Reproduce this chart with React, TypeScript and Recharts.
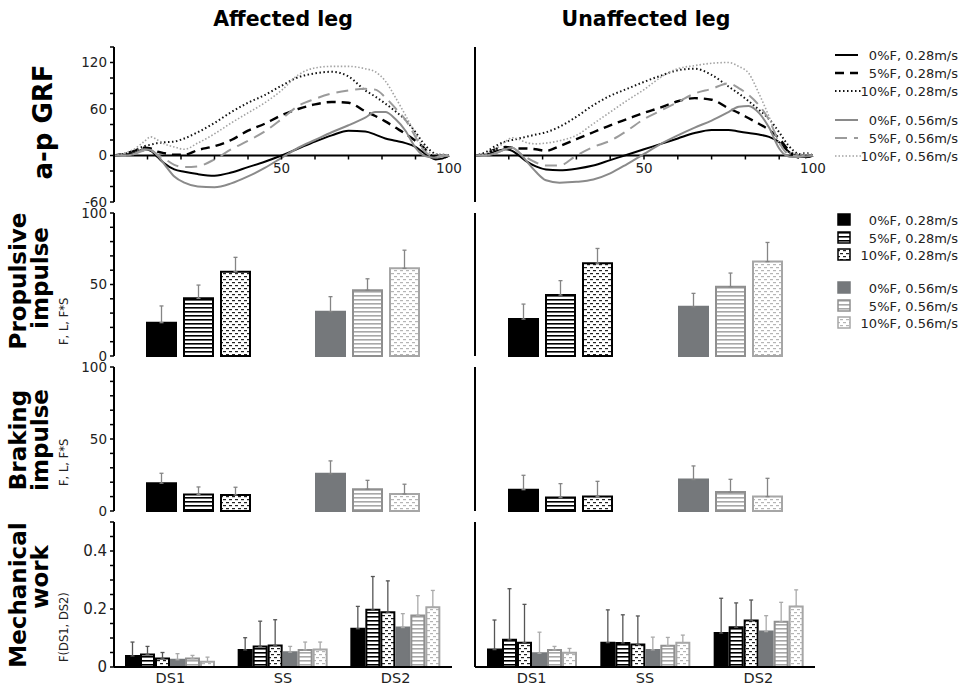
import { Bar, BarChart, Cell, ErrorBar, Line, LineChart, ReferenceLine, XAxis, YAxis } from "recharts";

const FONT = "'DejaVu Sans', Verdana, sans-serif";

// % of stance and anterior-posterior GRF traces
const STANCE = [0, 3, 6, 9, 11, 13, 15, 18, 21, 25, 30, 35, 40, 45, 50, 55, 60, 65, 70, 75, 78, 81, 84, 87, 90, 92, 94, 96, 98, 100];

const AFF_GRF_0F_028 = [0, 1, 3, 8, 6, -2, -10, -18, -21, -24, -26, -22, -15, -8, 0, 9, 18, 26, 32, 31, 27, 22, 19, 16, 11, 5, -1, -5, -4, 0];
const AFF_GRF_5F_028 = [0, 2, 6, 10, 9, 5, 3, 1, 1, 7, 12, 20, 32, 41, 52, 60, 66, 69, 68, 57, 51, 44, 36, 28, 19, 12, 3, -3, -3, 0];
const AFF_GRF_10F_028 = [0, 2, 6, 12, 14, 16, 17, 18, 22, 30, 42, 56, 68, 78, 90, 101, 106, 108, 102, 84, 76, 67, 57, 46, 30, 18, 8, 2, 0, 0];
const AFF_GRF_0F_056 = [0, 0, 2, 8, 7, 0, -11, -27, -35, -40, -41, -36, -27, -16, -3, 10, 20, 30, 39, 49, 56, 56, 47, 32, 10, 1, -2, -3, -1, 0];
const AFF_GRF_5F_056 = [0, 0, 2, 6, 6, 1, -4, -12, -15, -14, -5, 8, 19, 31, 47, 64, 73, 80, 84, 86, 85, 75, 61, 46, 24, 9, 1, -2, 0, 0];
const AFF_GRF_10F_056 = [0, 3, 8, 18, 24, 20, 15, 11, 8, 16, 28, 42, 55, 68, 84, 104, 113, 115, 115, 112, 108, 96, 75, 52, 28, 12, 4, 2, 2, 0];

const UNAFF_GRF_0F_028 = [0, 1, 5, 8, 6, 0, -7, -14, -18, -19, -17, -13, -6, 1, 8, 15, 22, 29, 33, 33, 31, 29, 27, 24, 17, 8, 1, -2, -2, 0];
const UNAFF_GRF_5F_028 = [0, 2, 8, 11, 10, 9, 9, 8, 6, 12, 21, 30, 39, 47, 55, 62, 70, 74, 72, 61, 55, 48, 41, 33, 22, 11, 2, -3, -2, 0];
const UNAFF_GRF_10F_028 = [0, 4, 12, 18, 20, 22, 24, 27, 30, 37, 50, 65, 77, 86, 95, 103, 110, 112, 104, 89, 80, 70, 59, 47, 30, 17, 7, 2, 3, 0];
const UNAFF_GRF_0F_056 = [0, 0, 3, 8, 10, 4, -6, -21, -32, -35, -34, -31, -23, -11, 2, 15, 26, 36, 45, 56, 63, 64, 55, 36, 9, 0, -2, -2, -1, 0];
const UNAFF_GRF_5F_056 = [0, 0, 3, 8, 10, 4, -2, -9, -13, -13, 0, 11, 19, 32, 47, 58, 69, 80, 86, 93, 87, 78, 65, 46, 17, 4, 0, -1, 0, 0];
const UNAFF_GRF_10F_056 = [0, 2, 8, 18, 23, 21, 17, 15, 16, 19, 26, 41, 56, 71, 85, 101, 112, 116, 119, 120, 115, 106, 80, 50, 16, 5, 3, 2, 2, 0];

const GRF_Y_TICKS = [-60, -40, -20, 0, 20, 40, 60, 80, 100, 120, 140];
const GRF_Y_LABELS = [-60, 0, 60, 120];
const STANCE_TICKS = [0, 10, 20, 30, 40, 50, 60, 70, 80, 90, 100];
const STANCE_LABELS = [50, 100];

const FORCES = ["0%F", "5%F", "10%F"];
const SPEEDS = ["0.28m/s", "0.56m/s"];

// impulses (mean, SD) for 0/5/10 %F at each speed
const IMPULSE_TICKS = [0, 10, 20, 30, 40, 50, 60, 70, 80, 90, 100];
const IMPULSE_LABELS = [0, 50, 100];

const AFF_PROP_028 = [23.3, 40.3, 59];
const AFF_PROP_028_SD = [11.7, 9.3, 10];
const AFF_PROP_056 = [31, 46, 61.3];
const AFF_PROP_056_SD = [10.5, 8, 12.7];
const UNAFF_PROP_028 = [25.8, 42.6, 64.9];
const UNAFF_PROP_028_SD = [10.5, 10.1, 10.3];
const UNAFF_PROP_056 = [34.4, 48.5, 66];
const UNAFF_PROP_056_SD = [9.4, 9.5, 13.4];

const AFF_BRAKE_028 = [19.3, 11.4, 11.1];
const AFF_BRAKE_028_SD = [6.9, 5.3, 5.4];
const AFF_BRAKE_056 = [25.8, 15.1, 11.8];
const AFF_BRAKE_056_SD = [9, 6.2, 6.8];
const UNAFF_BRAKE_028 = [14.8, 9.3, 10];
const UNAFF_BRAKE_028_SD = [10, 9.7, 10.6];
const UNAFF_BRAKE_056 = [21.8, 13.2, 10];
const UNAFF_BRAKE_056_SD = [9.5, 8.8, 12.7];

// mechanical work per phase, six conditions each
const PHASES = ["DS1", "SS", "DS2"];
const WORK_TICKS = [0, 0.05, 0.1, 0.15, 0.2, 0.25, 0.3, 0.35, 0.4, 0.45, 0.5];
const WORK_LABELS = [0, 0.2, 0.4];

const AFF_WORK_DS1 = [0.038, 0.043, 0.029, 0.025, 0.029, 0.018];
const AFF_WORK_DS1_SD = [0.048, 0.028, 0.021, 0.021, 0.011, 0.016];
const AFF_WORK_SS = [0.059, 0.071, 0.074, 0.051, 0.059, 0.06];
const AFF_WORK_SS_SD = [0.042, 0.087, 0.089, 0.02, 0.027, 0.026];
const AFF_WORK_DS2 = [0.132, 0.197, 0.189, 0.136, 0.178, 0.206];
const AFF_WORK_DS2_SD = [0.077, 0.115, 0.108, 0.048, 0.068, 0.058];

const UNAFF_WORK_DS1 = [0.06, 0.094, 0.084, 0.047, 0.059, 0.049];
const UNAFF_WORK_DS1_SD = [0.102, 0.176, 0.132, 0.073, 0.012, 0.015];
const UNAFF_WORK_SS = [0.084, 0.083, 0.078, 0.059, 0.073, 0.084];
const UNAFF_WORK_SS_SD = [0.113, 0.097, 0.098, 0.044, 0.029, 0.026];
const UNAFF_WORK_DS2 = [0.117, 0.137, 0.16, 0.122, 0.156, 0.209];
const UNAFF_WORK_DS2_SD = [0.12, 0.084, 0.071, 0.055, 0.067, 0.057];

// layout
const COL_X = [114, 475];
const Y_AXIS_W = 50;
const GRF_W = [335, 338];
const BAR_W = [338, 340];
const GRF_TOP = 47;
const GRF_H = 155;
const PROP_TOP = 213;
const PROP_H = 143;
const BRAKE_TOP = 367;
const BRAKE_H = 144;
const WORK_TOP = 522;
const WORK_H = 145;
const PAD = 10;

const LINE_STYLES = [
  { stroke: "#000", width: 2, dash: undefined },
  { stroke: "#000", width: 2.4, dash: "9 6" },
  { stroke: "#111", width: 2, dash: "1.5 2.5" },
  { stroke: "#8a8a8a", width: 2, dash: undefined },
  { stroke: "#9b9b9b", width: 2, dash: "12 7" },
  { stroke: "#a3a3a3", width: 1.6, dash: "1.5 2" },
];

const BAR_STYLES = [
  { fill: "#000", stroke: "#000" },
  { fill: "url(#hatchDark)", stroke: "#000" },
  { fill: "url(#dotDark)", stroke: "#000" },
  { fill: "#75787b", stroke: "#75787b" },
  { fill: "url(#hatchLight)", stroke: "#8f8f8f" },
  { fill: "url(#dotLight)", stroke: "#a6a6a6" },
];
const ERR_COLORS = ["#555", "#555", "#555", "#aaa", "#aaa", "#aaa"];

const tickFont = { fontSize: 13.5, fill: "#222", fontFamily: FONT };

function grfRows(series: number[][]) {
  return STANCE.map((x, i) => {
    const row: Record<string, number> = { x };
    series.forEach((s, k) => (row["s" + k] = s[i]));
    return row;
  });
}

function impulseRows(m028: number[], s028: number[], m056: number[], s056: number[]) {
  return SPEEDS.map((speed, i) => {
    const m = i ? m056 : m028;
    const s = i ? s056 : s028;
    return { speed, v0: m[0], v1: m[1], v2: m[2], e0: [0, s[0]], e1: [0, s[1]], e2: [0, s[2]] };
  });
}

function workRows(means: number[][], sds: number[][]) {
  return PHASES.map((phase, i) => {
    const row: Record<string, any> = { phase };
    means[i].forEach((v, k) => {
      row["w" + k] = v;
      row["e" + k] = [0, sds[i][k]];
    });
    return row;
  });
}

const labelOnly = (labels: number[]) => (v: number) => (labels.some((l) => Math.abs(l - v) < 1e-9) ? String(v) : "");

// x ticks drawn on the zero line instead of the plot bottom
function StanceTick(props: any) {
  const { x, y, payload } = props;
  const zeroY = y - GRF_H * (60 / 200);
  const v = payload.value;
  return (
    <g>
      {v > 0 && v < 100 ? <line x1={x} x2={x} y1={zeroY} y2={zeroY + 4} stroke="#000" strokeWidth={1.5} /> : null}
      {STANCE_LABELS.includes(v) ? (
        <text x={x} y={zeroY + 17} textAnchor="middle" {...tickFont}>
          {v}
        </text>
      ) : null}
    </g>
  );
}

function GrfPanel({ col, series }: { col: number; series: number[][] }) {
  const data = grfRows(series);
  return (
    <div style={{ position: "absolute", left: COL_X[col] - Y_AXIS_W, top: GRF_TOP - PAD }}>
      <LineChart
        width={Y_AXIS_W + GRF_W[col] + 20}
        height={GRF_H + PAD * 2 + 1}
        data={data}
        margin={{ top: PAD, right: 20, bottom: PAD, left: 0 }}
      >
        <XAxis
          type="number"
          dataKey="x"
          domain={[0, 100]}
          ticks={STANCE_TICKS}
          interval={0}
          axisLine={false}
          tickLine={false}
          tickSize={0}
          tickMargin={0}
          height={1}
          tick={(p: any) => <StanceTick {...p} />}
        />
        <YAxis
          type="number"
          domain={[-60, 140]}
          ticks={GRF_Y_TICKS}
          interval={0}
          width={Y_AXIS_W}
          axisLine={{ stroke: "#000", strokeWidth: 2 }}
          tickLine={{ stroke: "#000", strokeWidth: 1.5 }}
          tickSize={4}
          tickMargin={3}
          tick={col === 0 ? tickFont : false}
          tickFormatter={labelOnly(GRF_Y_LABELS)}
        />
        <ReferenceLine y={0} stroke="#000" strokeWidth={2} />
        {LINE_STYLES.map((st, k) => (
          <Line
            key={k}
            type="monotone"
            dataKey={"s" + k}
            stroke={st.stroke}
            strokeWidth={st.width}
            strokeDasharray={st.dash}
            dot={false}
            isAnimationActive={false}
          />
        ))}
      </LineChart>
    </div>
  );
}

function ImpulsePanel({ col, top, h, rows }: { col: number; top: number; h: number; rows: any[] }) {
  return (
    <div style={{ position: "absolute", left: COL_X[col] - Y_AXIS_W, top: top - PAD }}>
      <BarChart
        width={Y_AXIS_W + BAR_W[col] + 4}
        height={h + PAD * 2}
        data={rows}
        barGap={8}
        margin={{ top: PAD, right: 4, bottom: PAD, left: 0 }}
      >
        <XAxis dataKey="speed" tick={false} tickLine={false} height={0} axisLine={{ stroke: "#000", strokeWidth: 2 }} />
        <YAxis
          type="number"
          domain={[0, 100]}
          ticks={IMPULSE_TICKS}
          interval={0}
          width={Y_AXIS_W}
          axisLine={{ stroke: "#000", strokeWidth: 2 }}
          tickLine={{ stroke: "#000", strokeWidth: 1.5 }}
          tickSize={4}
          tickMargin={3}
          tick={col === 0 ? tickFont : false}
          tickFormatter={labelOnly(IMPULSE_LABELS)}
        />
        {FORCES.map((f, k) => (
          <Bar key={f} dataKey={"v" + k} barSize={29} isAnimationActive={false}>
            {rows.map((_, i) => (
              <Cell key={i} fill={BAR_STYLES[i * 3 + k].fill} stroke={BAR_STYLES[i * 3 + k].stroke} strokeWidth={2} />
            ))}
            <ErrorBar dataKey={"e" + k} direction="y" width={2} stroke="#858585" strokeWidth={1.3} />
          </Bar>
        ))}
      </BarChart>
    </div>
  );
}

function WorkPanel({ col, rows }: { col: number; rows: any[] }) {
  return (
    <div style={{ position: "absolute", left: COL_X[col] - Y_AXIS_W, top: WORK_TOP - PAD }}>
      <BarChart
        width={Y_AXIS_W + BAR_W[col] + 4}
        height={WORK_H + PAD + 20}
        data={rows}
        barGap={2}
        margin={{ top: PAD, right: 4, bottom: 0, left: 0 }}
      >
        <XAxis
          dataKey="phase"
          tickLine={false}
          height={20}
          tickMargin={0}
          axisLine={{ stroke: "#000", strokeWidth: 2 }}
          tick={{ ...tickFont, fontSize: 14.5 }}
        />
        <YAxis
          type="number"
          domain={[0, 0.5]}
          ticks={WORK_TICKS}
          interval={0}
          width={Y_AXIS_W}
          axisLine={{ stroke: "#000", strokeWidth: 2 }}
          tickLine={{ stroke: "#000", strokeWidth: 1.5 }}
          tickSize={4}
          tickMargin={3}
          tick={col === 0 ? { ...tickFont, fontSize: 15 } : false}
          tickFormatter={labelOnly(WORK_LABELS)}
        />
        {BAR_STYLES.map((st, k) => (
          <Bar key={k} dataKey={"w" + k} barSize={13} fill={st.fill} stroke={st.stroke} strokeWidth={2} isAnimationActive={false}>
            <ErrorBar dataKey={"e" + k} direction="y" width={2} stroke={ERR_COLORS[k]} strokeWidth={1.3} />
          </Bar>
        ))}
      </BarChart>
    </div>
  );
}

const LEGEND_LABELS = SPEEDS.flatMap((s) => FORCES.map((f) => `${f}, ${s}`));
const LINE_LEGEND_Y = [55, 73, 91, 120, 138, 156];
const BAR_LEGEND_Y = [220, 238, 255, 288, 306, 323];

function RowLabel({ cy, lines, note }: { cy: number[]; lines: string[]; note: [number, string] }) {
  const xs = [26, 48];
  return (
    <g>
      {lines.map((t, i) => (
        <text
          key={t}
          transform={`translate(${xs[i]},${cy[i]}) rotate(-90)`}
          textAnchor="middle"
          fontFamily={FONT}
          fontWeight="bold"
          fontSize={23}
          fill="#000"
        >
          {t}
        </text>
      ))}
      <text transform={`translate(68,${note[0]}) rotate(-90)`} fontFamily={FONT} fontSize={11.5} fill="#222">
        {note[1]}
      </text>
    </g>
  );
}

function Overlay() {
  return (
    <svg width={965} height={687} style={{ position: "absolute", left: 0, top: 0, pointerEvents: "none" }}>
      <defs>
        <pattern id="hatchDark" patternUnits="userSpaceOnUse" width={4} height={4}>
          <rect width={4} height={4} fill="#fff" />
          <rect width={4} height={1.6} fill="#000" />
        </pattern>
        <pattern id="hatchLight" patternUnits="userSpaceOnUse" width={4} height={4}>
          <rect width={4} height={4} fill="#fff" />
          <rect width={4} height={1.6} fill="#a8a8a8" />
        </pattern>
        <pattern id="dotDark" patternUnits="userSpaceOnUse" width={6} height={6}>
          <rect width={6} height={6} fill="#fff" />
          <rect x={0} y={1} width={3} height={1.2} fill="#222" />
          <rect x={3} y={4} width={3} height={1.2} fill="#222" />
        </pattern>
        <pattern id="dotLight" patternUnits="userSpaceOnUse" width={6} height={6}>
          <rect width={6} height={6} fill="#fff" />
          <rect x={0} y={1} width={3} height={1.2} fill="#b5b5b5" />
          <rect x={3} y={4} width={3} height={1.2} fill="#b5b5b5" />
        </pattern>
      </defs>

      <text x={283} y={26} textAnchor="middle" fontFamily={FONT} fontWeight="bold" fontSize={20.5}>
        Affected leg
      </text>
      <text x={646} y={26} textAnchor="middle" fontFamily={FONT} fontWeight="bold" fontSize={20.5}>
        Unaffected leg
      </text>

      <text transform="translate(52,122) rotate(-90)" textAnchor="middle" fontFamily={FONT} fontWeight="bold" fontSize={26}>
        a-p GRF
      </text>
      <RowLabel cy={[281, 278]} lines={["Propulsive", "impulse"]} note={[345, "F, L, F*S"]} />
      <RowLabel cy={[440, 440]} lines={["Braking", "impulse"]} note={[486, "F, L, F*S"]} />
      <RowLabel cy={[595, 577]} lines={["Mechanical", "work"]} note={[662, "F(DS1, DS2)"]} />

      {LEGEND_LABELS.map((label, k) => {
        const y = LINE_LEGEND_Y[k];
        const st = LINE_STYLES[k];
        return (
          <g key={"l" + k}>
            <line x1={835} x2={k % 3 === 2 ? 862 : 858} y1={y} y2={y} stroke={st.stroke} strokeWidth={st.width} strokeDasharray={st.dash} />
            <text x={958} y={y + 5} textAnchor="end" fontFamily={FONT} fontSize={13} fill="#222">
              {label}
            </text>
          </g>
        );
      })}
      {LEGEND_LABELS.map((label, k) => {
        const y = BAR_LEGEND_Y[k];
        const st = BAR_STYLES[k];
        return (
          <g key={"b" + k}>
            <rect x={838} y={y - 6} width={12} height={11} fill={st.fill} stroke={st.stroke} strokeWidth={1.5} />
            <text x={958} y={y + 5} textAnchor="end" fontFamily={FONT} fontSize={13} fill="#222">
              {label}
            </text>
          </g>
        );
      })}
    </svg>
  );
}

export default function App() {
  return (
    <div style={{ position: "absolute", left: 0, top: 0, width: 965, height: 687, overflow: "hidden", background: "#fff", fontFamily: FONT }}>
      <GrfPanel col={0} series={[AFF_GRF_0F_028, AFF_GRF_5F_028, AFF_GRF_10F_028, AFF_GRF_0F_056, AFF_GRF_5F_056, AFF_GRF_10F_056]} />
      <GrfPanel col={1} series={[UNAFF_GRF_0F_028, UNAFF_GRF_5F_028, UNAFF_GRF_10F_028, UNAFF_GRF_0F_056, UNAFF_GRF_5F_056, UNAFF_GRF_10F_056]} />
      <ImpulsePanel col={0} top={PROP_TOP} h={PROP_H} rows={impulseRows(AFF_PROP_028, AFF_PROP_028_SD, AFF_PROP_056, AFF_PROP_056_SD)} />
      <ImpulsePanel col={1} top={PROP_TOP} h={PROP_H} rows={impulseRows(UNAFF_PROP_028, UNAFF_PROP_028_SD, UNAFF_PROP_056, UNAFF_PROP_056_SD)} />
      <ImpulsePanel col={0} top={BRAKE_TOP} h={BRAKE_H} rows={impulseRows(AFF_BRAKE_028, AFF_BRAKE_028_SD, AFF_BRAKE_056, AFF_BRAKE_056_SD)} />
      <ImpulsePanel col={1} top={BRAKE_TOP} h={BRAKE_H} rows={impulseRows(UNAFF_BRAKE_028, UNAFF_BRAKE_028_SD, UNAFF_BRAKE_056, UNAFF_BRAKE_056_SD)} />
      <WorkPanel col={0} rows={workRows([AFF_WORK_DS1, AFF_WORK_SS, AFF_WORK_DS2], [AFF_WORK_DS1_SD, AFF_WORK_SS_SD, AFF_WORK_DS2_SD])} />
      <WorkPanel col={1} rows={workRows([UNAFF_WORK_DS1, UNAFF_WORK_SS, UNAFF_WORK_DS2], [UNAFF_WORK_DS1_SD, UNAFF_WORK_SS_SD, UNAFF_WORK_DS2_SD])} />
      <Overlay />
    </div>
  );
}
